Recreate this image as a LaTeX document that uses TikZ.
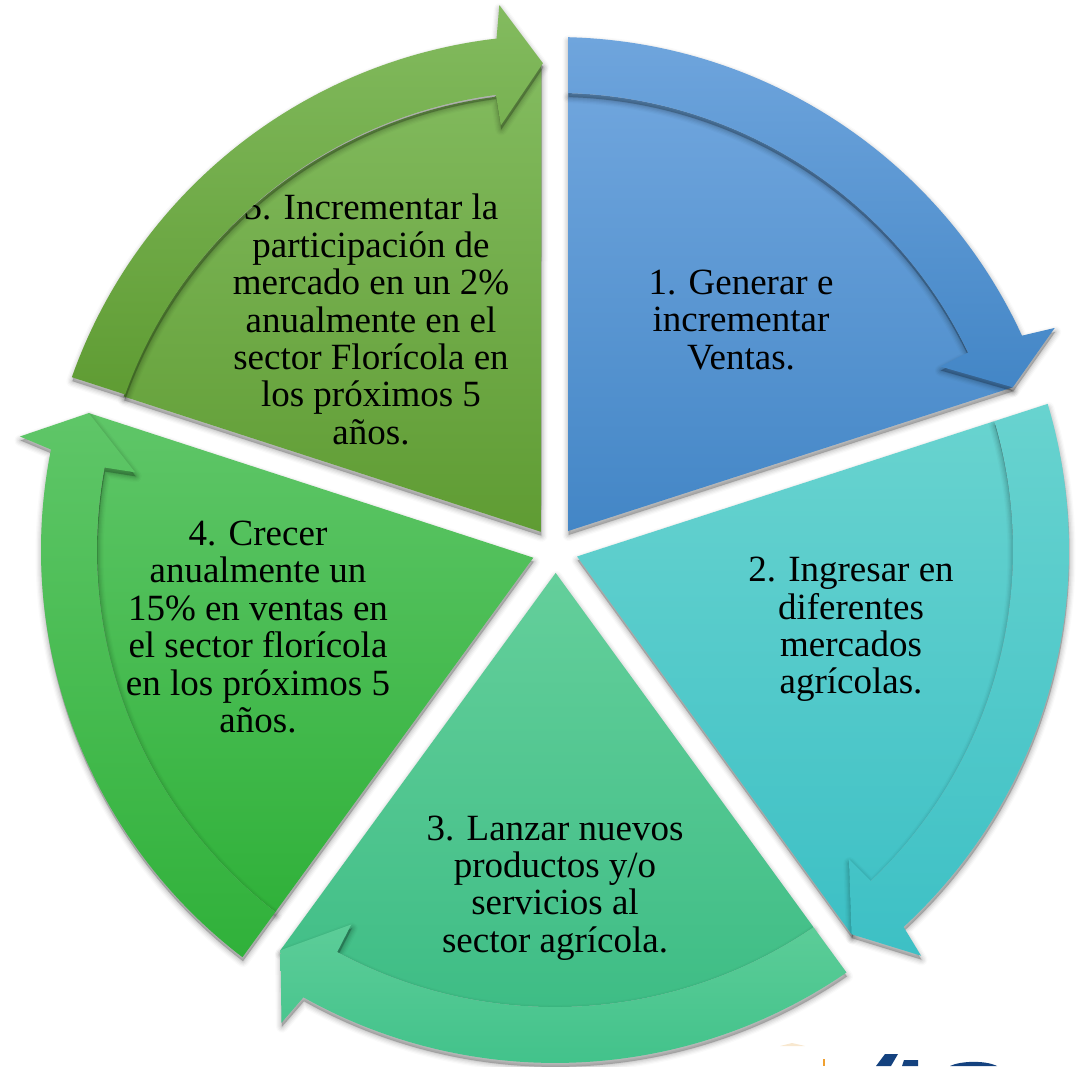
\documentclass[tikz,border=0pt]{standalone}
\usepackage{fontspec}
\setmainfont{Liberation Serif}
\definecolor{bA}{HTML}{6FA5DD}\definecolor{bB}{HTML}{4F97DA}\definecolor{bC}{HTML}{4386C6}
\definecolor{tA}{HTML}{68D3CF}\definecolor{tB}{HTML}{50D3D5}\definecolor{tC}{HTML}{3DC0C5}
\definecolor{mA}{HTML}{64CF9B}\definecolor{mB}{HTML}{47C98C}\definecolor{mC}{HTML}{3CBC84}
\definecolor{gA}{HTML}{5FC668}\definecolor{gB}{HTML}{47C052}\definecolor{gC}{HTML}{30B13A}
\definecolor{oA}{HTML}{83BB5F}\definecolor{oB}{HTML}{72B64A}\definecolor{oC}{HTML}{5F9C33}
\definecolor{mrA}{HTML}{5CCD98}\definecolor{mrB}{HTML}{4CCB91}\definecolor{mrC}{HTML}{3DC088}
\definecolor{logoblue}{HTML}{14427F}\definecolor{logoorange}{HTML}{F0A030}\definecolor{logopale}{HTML}{F8E8D0}
\tikzset{
  lbl/.style={font=\fontsize{37}{37.4}\selectfont, align=center, text=black, inner sep=0pt},
  shade3/.style n args={3}{top color=#1, middle color=#2, bottom color=#3, draw=none},
  discframe/.style={shift={(555,516)}, yscale=.998}
}
\newcommand{\wedgepath}[1]{(#1+55.6:23pt) -- (#1+88.37:458pt) arc[start angle=#1+88.37, end angle=#1+25.6, radius=458pt] -- (#1+19.6:486pt) -- cycle}
\newcommand{\ringpath}[1]{(#1+88.55:514pt) arc[start angle=#1+88.55, end angle=#1+24.7, radius=514pt] -- (#1+24:547pt) -- (#1+19.6:486pt) -- (#1+25.5:427pt) -- (#1+25.6:458pt) arc[start angle=#1+25.6, end angle=#1+88.37, radius=458pt] -- cycle}
\newcommand{\softshadow}[1]{%
  \begin{scope}[shift={(0.5pt,-4pt)}, line join=round]
    \fill[black, opacity=.02, draw=black, line width=12pt] #1;
    \fill[black, opacity=.03, draw=black, line width=9.5pt] #1;
    \fill[black, opacity=.04, draw=black, line width=7pt] #1;
    \fill[black, opacity=.05, draw=black, line width=4.5pt] #1;
    \fill[black, opacity=.05, draw=black, line width=2pt] #1;
    \fill[black, opacity=.06] #1;
  \end{scope}}
\newcommand{\wedgeshape}[4]{\softshadow{\wedgepath{#1}}\path[shade3={#2}{#3}{#4}] \wedgepath{#1};}
\newcommand{\ringshape}[4]{\softshadow{\ringpath{#1}}\path[shade3={#2}{#3}{#4}] \ringpath{#1};}
\begin{document}
\begin{tikzpicture}[x=1pt,y=1pt]
\useasboundingbox (0,0) rectangle (1079,1066);
% partial logo, cut off by the lower edge
\fill[logopale] (780,1066-1046) -- (792,1066-1043) -- (805,1066-1046) -- cycle;
\fill[logoorange] (822.5,0) rectangle (824.5,7);
\fill[logoblue] (876,0) -- (885,12) -- (898,12) -- (891,0) -- cycle;
\fill[logoblue] (902,0) -- (904,6) -- (918,6) -- (918,0) -- cycle;
\fill[logoblue] (950,0) .. controls (960,5) and (985,6) .. (997,0) -- cycle;
\begin{scope}[discframe]
  \wedgeshape{0}{bA}{bB}{bC}
  \wedgeshape{-72}{tA}{tB}{tC}
  \wedgeshape{-144}{mA}{mB}{mC}
  \wedgeshape{-216}{gA}{gB}{gC}
  \wedgeshape{-288}{oA}{oB}{oC}
\end{scope}
\node[lbl] (t1) at (741,746) {1. Generar e\\incrementar\\Ventas.};
\node[lbl] (t2) at (851,436.5) {2. Ingresar en\\diferentes\\mercados\\agrícolas.};
\node[lbl] (t3) at (555,178) {3. Lanzar nuevos\\productos y/o\\servicios al\\sector agrícola.};
\node[lbl] (t4) at (258,439) {4. Crecer\\anualmente un\\15\% en ventas en\\el sector florícola\\en los próximos 5\\años.};
\node[lbl] (t5) at (371,746.5) {5. Incrementar la\\participación de\\mercado en un 2\%\\anualmente en el\\sector Florícola en\\los próximos 5\\años.};
\begin{scope}[discframe]
  \ringshape{0}{bA}{bA!60!bC}{bC}
  \ringshape{-72}{tA}{tA!50!tC}{tC}
  \ringshape{-144}{mrA}{mrB}{mrC}
  \ringshape{-216}{gA}{gB}{gC}
  \begin{scope}[shift={(1.5pt,2pt)}]
    \ringshape{-288}{oA}{oA!50!oC}{oC}
  \end{scope}
\end{scope}
\end{tikzpicture}
\end{document}
